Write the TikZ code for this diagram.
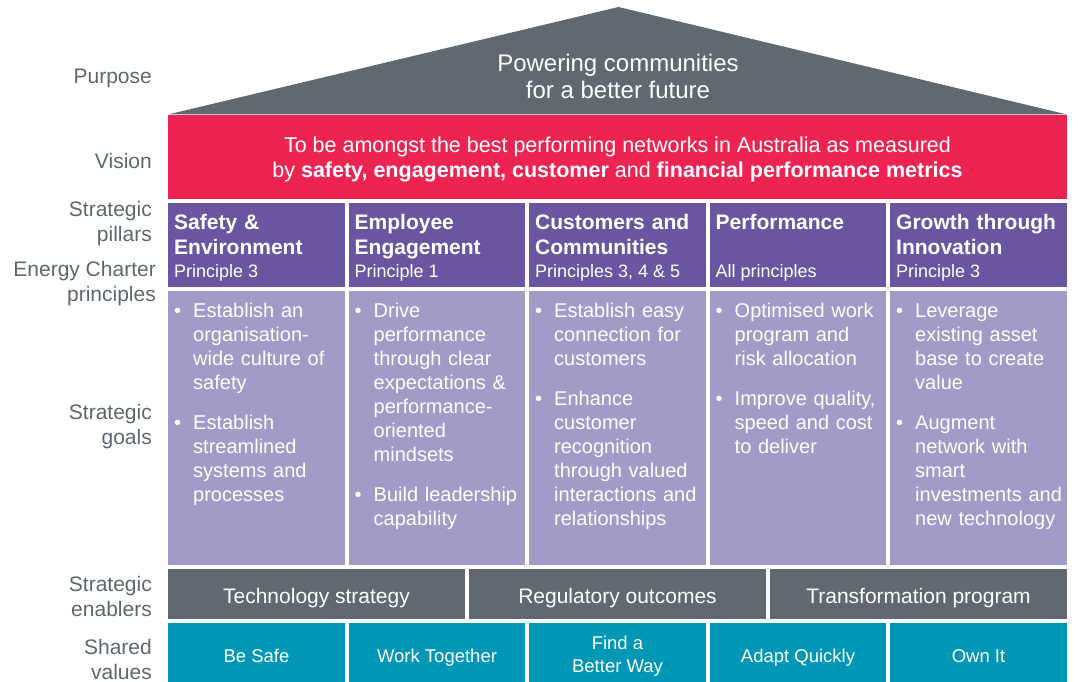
\documentclass[tikz,border=0pt]{standalone}
\usepackage{fontspec}
\setmainfont{Liberation Sans}
\usepackage{xcolor}
\usepackage{tikz}
\definecolor{roofgrey}{RGB}{96,104,112}
\definecolor{visionred}{RGB}{237,36,82}
\definecolor{pillarpurple}{RGB}{106,86,160}
\definecolor{goallilac}{RGB}{163,154,200}
\definecolor{valueteal}{RGB}{0,150,182}
\definecolor{labelgrey}{RGB}{94,102,110}
\newcommand{\goalitem}[1]{\hangindent=19pt\hangafter=1\noindent\makebox[19pt][l]{\textbullet}#1\par}

\begin{document}
\begin{tikzpicture}[x=1pt,y=-1pt,line cap=round,line join=round,
  box/.style={inner sep=0pt,outer sep=0pt,anchor=north west},
  colbox/.style={box,minimum width=176.5pt},
  sidelabel/.style={anchor=east,align=right,inner sep=0pt,text=labelgrey,font=\fontsize{21}{25}\selectfont},
  pilltext/.style={anchor=base west,inner sep=0pt,text width=170pt,text=white,font=\bfseries\fontsize{21}{25}\selectfont},
  princtext/.style={anchor=base west,inner sep=0pt,text=white,font=\fontsize{18}{22}\selectfont},
  goaltext/.style={anchor=base west,inner sep=0pt,text width=172pt,text=white,font=\fontsize{20}{24}\selectfont,execute at begin node={\setlength{\parskip}{16pt}}},
  bandtext/.style={align=center,inner sep=0pt,text=white}]
\useasboundingbox (0,0) rectangle (1078,682);
\fill[roofgrey] (168,114.5) -- (618.5,7) -- (1067,114.5) -- cycle;
\node[bandtext,font=\fontsize{24}{27}\selectfont] (purpose) at (618,76) {Powering communities\\for a better future};
\node[box,fill=visionred,minimum width=899pt,minimum height=84pt] (vision) at (168,115) {};
\node[bandtext,font=\fontsize{21.5}{25}\selectfont] (visiont) at (617.5,159) {To be amongst the best performing networks in Australia as measured\\by \textbf{safety, engagement, customer} and \textbf{financial performance metrics}};
\node[sidelabel] (lpurpose) at (152,78) {Purpose};
\node[sidelabel] (lvision) at (152,161) {Vision};
\node[sidelabel] (lpillars) at (152,224) {Strategic\\pillars};
\node[sidelabel] (lcharter) at (156,284) {Energy Charter\\principles};
\node[sidelabel] (lgoals) at (152,427) {Strategic\\goals};
\node[sidelabel] (lenablers) at (152,596) {Strategic\\enablers};
\node[sidelabel] (lvalues) at (152,659) {Shared\\values};
\node[colbox,fill=pillarpurple,minimum height=84pt] (pil1) at (168,203) {};
\node[colbox,fill=pillarpurple,minimum height=84pt] (pil2) at (348.5,203) {};
\node[colbox,fill=pillarpurple,minimum height=84pt] (pil3) at (529,203) {};
\node[colbox,fill=pillarpurple,minimum height=84pt] (pil4) at (709.5,203) {};
\node[colbox,fill=pillarpurple,minimum height=84pt] (pil5) at (890,203) {};
\node[pilltext] (pil1t) at (174,229.5) {Safety \&\\Environment};
\node[pilltext] (pil2t) at (354.5,229.5) {Employee\\Engagement};
\node[pilltext] (pil3t) at (535,229.5) {Customers and\\Communities};
\node[pilltext] (pil4t) at (715.5,229.5) {Performance};
\node[pilltext] (pil5t) at (896,229.5) {Growth through\\Innovation};
\node[princtext] (pil1p) at (174,277) {Principle 3};
\node[princtext] (pil2p) at (354.5,277) {Principle 1};
\node[princtext] (pil3p) at (535,277) {Principles 3, 4 \& 5};
\node[princtext] (pil4p) at (715.5,277) {All principles};
\node[princtext] (pil5p) at (896,277) {Principle 3};
\node[colbox,fill=goallilac,minimum height=274pt] (goal1) at (168,291) {};
\node[colbox,fill=goallilac,minimum height=274pt] (goal2) at (348.5,291) {};
\node[colbox,fill=goallilac,minimum height=274pt] (goal3) at (529,291) {};
\node[colbox,fill=goallilac,minimum height=274pt] (goal4) at (709.5,291) {};
\node[colbox,fill=goallilac,minimum height=274pt] (goal5) at (890,291) {};
\node[goaltext] (goal1t) at (174,317) {\goalitem{Establish an\newline organisation-\newline wide culture of\newline safety}\goalitem{Establish\newline streamlined\newline systems and\newline processes}};
\node[goaltext] (goal2t) at (354.5,317) {\goalitem{Drive\newline performance\newline through clear\newline expectations \&\newline performance-\newline oriented\newline mindsets}\goalitem{Build leadership\newline capability}};
\node[goaltext] (goal3t) at (535,317) {\goalitem{Establish easy\newline connection for\newline customers}\goalitem{Enhance\newline customer\newline recognition\newline through valued\newline interactions and\newline relationships}};
\node[goaltext] (goal4t) at (715.5,317) {\goalitem{Optimised work\newline program and\newline risk allocation}\goalitem{Improve quality,\newline speed and cost\newline to deliver}};
\node[goaltext] (goal5t) at (896,317) {\goalitem{Leverage\newline existing asset\newline base to create\newline value}\goalitem{Augment\newline network with\newline smart\newline investments and\newline new technology}};
\node[box,fill=roofgrey,minimum width=297pt,minimum height=50pt] (enab1) at (168,569) {};
\node[box,fill=roofgrey,minimum width=297pt,minimum height=50pt] (enab2) at (469,569) {};
\node[box,fill=roofgrey,minimum width=297pt,minimum height=50pt] (enab3) at (770,569) {};
\node[bandtext,font=\fontsize{21}{25}\selectfont] (enab1t) at (316.5,598) {Technology strategy};
\node[bandtext,font=\fontsize{21}{25}\selectfont] (enab2t) at (617.5,598) {Regulatory outcomes};
\node[bandtext,font=\fontsize{21}{25}\selectfont] (enab3t) at (918.5,598) {Transformation program};
\node[colbox,fill=valueteal,minimum height=59pt] (val1) at (168,623) {};
\node[colbox,fill=valueteal,minimum height=59pt] (val2) at (348.5,623) {};
\node[colbox,fill=valueteal,minimum height=59pt] (val3) at (529,623) {};
\node[colbox,fill=valueteal,minimum height=59pt] (val4) at (709.5,623) {};
\node[colbox,fill=valueteal,minimum height=59pt] (val5) at (890,623) {};
\node[bandtext,font=\fontsize{18.5}{23}\selectfont] (val1t) at (256.5,656) {Be Safe};
\node[bandtext,font=\fontsize{18.5}{23}\selectfont] (val2t) at (437,658) {Work Together};
\node[bandtext,font=\fontsize{18.5}{23}\selectfont] (val3t) at (617.5,656) {Find a\\Better Way};
\node[bandtext,font=\fontsize{18.5}{23}\selectfont] (val4t) at (798,658) {Adapt Quickly};
\node[bandtext,font=\fontsize{18.5}{23}\selectfont] (val5t) at (978.5,656) {Own It};
\end{tikzpicture}
\end{document}
